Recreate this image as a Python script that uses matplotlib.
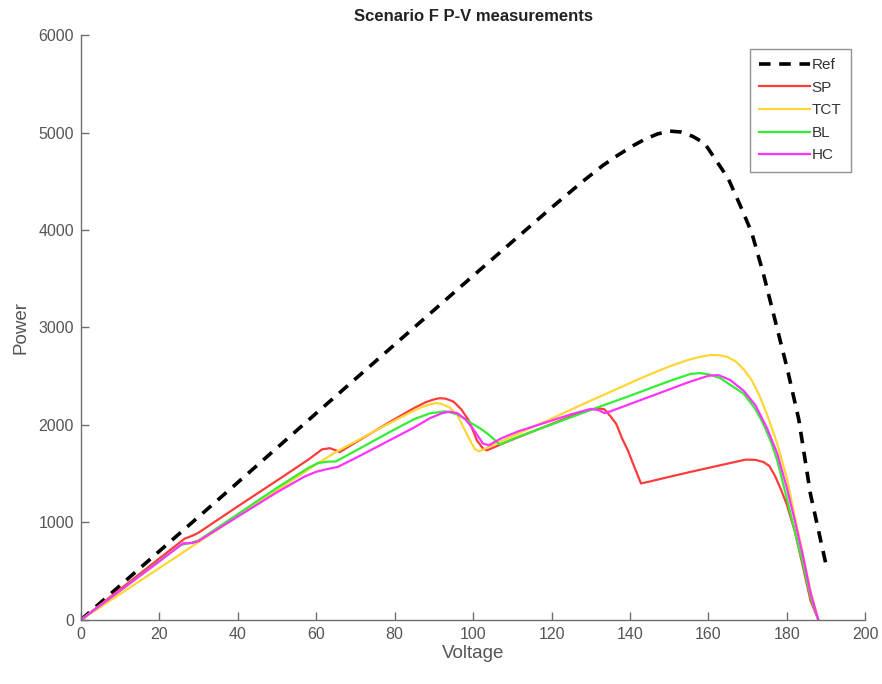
import matplotlib
matplotlib.use("Agg")
import matplotlib.pyplot as plt

plt.rcParams['font.family'] = ['Liberation Sans', 'DejaVu Sans']

# Reference P-V curve (unshaded array)
ref_v = [0, 20, 40, 60, 80, 100, 120, 128, 133, 137, 141, 144, 147, 150, 153, 156, 159,
         162, 165, 168, 171, 174, 177, 180, 183, 186, 190]
ref_p = [0, 705, 1410, 2120, 2825, 3530, 4230, 4500, 4660, 4770, 4870, 4935, 4985, 5015,
         5005, 4960, 4890, 4710, 4530, 4260, 3975, 3550, 3070, 2590, 2060, 1290, 560]

# Series-parallel
sp_v = [0, 10, 20, 26.5, 28.5, 30, 40, 50, 58, 61.5, 63.5, 65, 66, 70, 75, 80, 85, 88,
        90, 91.5, 93, 95, 97, 99, 101, 102.5, 103.5, 105, 107, 110, 115, 120, 125, 130,
        132, 133.5, 135, 136.5, 138, 139.5, 141, 142.8, 145, 150, 155, 160, 165, 169.5,
        172, 174, 175.5, 177, 178.5, 180, 182, 184, 186, 188]
sp_p = [0, 315, 630, 835, 865, 895, 1165, 1430, 1645, 1750, 1762, 1740, 1722, 1820,
        1940, 2060, 2175, 2235, 2262, 2275, 2270, 2240, 2160, 2040, 1840, 1760, 1740,
        1765, 1800, 1850, 1930, 2010, 2090, 2160, 2172, 2160, 2090, 2010, 1860, 1735,
        1580, 1400, 1420, 1468, 1515, 1560, 1605, 1645, 1642, 1620, 1580, 1475, 1335,
        1180, 910, 560, 200, 0]

# Total-cross-tied
tct_v = [0, 20, 40, 60, 65, 70, 75, 80, 84, 87, 89, 90.5, 92, 94, 96, 98, 99.5, 100.5,
         101.5, 102.5, 104, 107, 110, 120, 126.7, 135, 143.6, 150, 155, 158, 160.5, 163,
         165, 167, 169, 171, 173, 175, 177.5, 180, 182, 184, 186, 188]
tct_p = [0, 532, 1064, 1596, 1722, 1830, 1940, 2045, 2130, 2185, 2212, 2225, 2215, 2180,
         2100, 1940, 1820, 1750, 1730, 1745, 1775, 1830, 1885, 2065, 2190, 2340, 2495,
         2600, 2670, 2700, 2718, 2715, 2695, 2650, 2570, 2460, 2300, 2100, 1810, 1450,
         1060, 690, 300, 0]

# Bridge-linked
bl_v = [0, 10, 20, 25.5, 28, 30, 40, 50, 58, 60.5, 63, 65, 70, 75, 80, 85, 89, 93, 96,
        99.5, 102, 104, 106.8, 111.5, 120, 130, 140, 150, 155.5, 158, 160.5, 163, 166,
        169, 172, 174, 176, 177.5, 180, 182, 184, 186, 188]
bl_p = [0, 300, 605, 770, 790, 815, 1085, 1355, 1560, 1610, 1624, 1626, 1735, 1845,
        1955, 2060, 2120, 2140, 2110, 2020, 1960, 1900, 1800, 1880, 2005, 2155, 2300,
        2450, 2525, 2532, 2515, 2480, 2400, 2320, 2160, 2010, 1820, 1640, 1240, 910,
        590, 240, 0]

# Honey-comb
hc_v = [0, 10, 20, 26, 28.5, 30, 40, 50, 57, 60, 62.5, 65.5, 70, 75, 80, 85, 89, 92, 94,
        96, 98, 100, 101.5, 102.5, 104, 107, 111.5, 120, 125, 130, 132, 133.5, 135, 140,
        145, 150, 155, 160, 162.5, 165.5, 169, 172, 175, 177.5, 180, 182, 184, 186, 188]
hc_p = [0, 300, 600, 785, 790, 810, 1060, 1310, 1470, 1520, 1545, 1570, 1660, 1765,
        1870, 1975, 2070, 2120, 2137, 2120, 2060, 1960, 1870, 1810, 1792, 1860, 1935,
        2045, 2110, 2165, 2152, 2122, 2140, 2215, 2290, 2365, 2440, 2505, 2512, 2462,
        2350, 2200, 1960, 1710, 1350, 1020, 670, 280, 0]

fig = plt.figure(figsize=(8.82, 6.84), dpi=100)
ax = fig.add_axes([0.0916, 0.0936, 0.8896, 0.8552])

ax.plot(ref_v, ref_p, color='black', linestyle=(0, (3.2, 2.4)), linewidth=2.6, label='Ref')
ax.plot(sp_v, sp_p, color='#ff3b3b', linewidth=1.6, label='SP')
ax.plot(tct_v, tct_p, color='#ffd633', linewidth=1.6, label='TCT')
ax.plot(bl_v, bl_p, color='#33ee33', linewidth=1.6, label='BL')
ax.plot(hc_v, hc_p, color='#ff33ff', linewidth=1.6, label='HC')

ax.set_xlim(0, 200)
ax.set_ylim(0, 6000)
ax.set_xticks(range(0, 201, 20))
ax.set_yticks(range(0, 6001, 1000))

axis_grey = '#6e6e6e'
for side in ('top', 'right'):
    ax.spines[side].set_visible(False)
for side in ('left', 'bottom'):
    ax.spines[side].set_color(axis_grey)
    ax.spines[side].set_linewidth(1.0)
ax.tick_params(direction='in', length=6, width=1.0, colors=axis_grey,
               labelcolor='#555555', labelsize=11.5, pad=5)

ax.set_xlabel('Voltage', fontsize=13.5, color='#555555', labelpad=2)
ax.set_ylabel('Power', fontsize=13.5, color='#555555', labelpad=6)
ax.set_title('Scenario F P-V measurements', fontsize=12, fontweight='bold',
             color='#222222', pad=10)

leg = ax.legend(loc='upper right', bbox_to_anchor=(0.981, 0.976), fontsize=11,
                frameon=True, fancybox=False, handlelength=3.3, handletextpad=0.12,
                borderpad=0.6, labelspacing=0.56, borderaxespad=0.0)
leg.get_frame().set_edgecolor('#777777')
leg.get_frame().set_linewidth(1.0)
for t in leg.get_texts():
    t.set_color('#333333')

fig.savefig('out.png', dpi=100)
